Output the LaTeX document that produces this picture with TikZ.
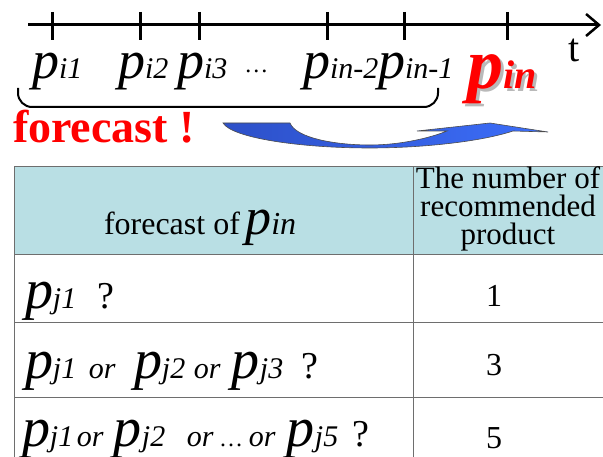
\documentclass[tikz,border=0pt]{standalone}
\usepackage{fontspec}
\setmainfont{Liberation Serif}
\usetikzlibrary{arrows.meta}
\definecolor{headfill}{RGB}{185,223,228}
\definecolor{gridline}{RGB}{110,110,110}
\definecolor{arrowdark}{RGB}{45,80,200}
\definecolor{arrowlight}{RGB}{60,110,250}
% p con subindice: tamano p, tamano subindice, subindice
\newcommand\pv[3]{{\fontsize{#1}{#1}\selectfont\itshape p}{\fontsize{#2}{#2}\selectfont\itshape #3}}
\newcommand\pinx{{\fontsize{72}{72}\selectfont\bfseries\itshape p}{\fontsize{40}{40}\selectfont\bfseries\itshape in}}
\newcommand\orw{{\fontsize{30}{30}\selectfont\itshape or}}
\newcommand\qm{{\fontsize{38}{38}\selectfont ?}}
\newcommand\seg[2]{\makebox[#1pt][l]{#2}}

\begin{document}
\begin{tikzpicture}[x=1pt,y=-1pt,line width=1pt,
  lbl/.style={anchor=base west,inner sep=0pt,outer sep=0pt},
  num/.style={anchor=base,inner sep=0pt,font=\fontsize{32}{32}\selectfont},
  grid/.style={draw=gridline,line width=1pt},
  tick/.style={line width=3pt},
  axis/.style={line width=3pt,-{Straight Barb[length=13pt,width=22pt,line width=2.5pt]}}]
  \useasboundingbox (0,0) rectangle (603,457);
  % eje de tiempo
  \coordinate (t0) at (28,25);
  \coordinate (t1) at (601,25);
  \draw[axis] (t0) -- (t1);
  \foreach \x in {52,140,199,327,404,507} \draw[tick] (\x,12) -- (\x,40);
  \node[lbl] (tt) at (568,62) {\fontsize{40}{40}\selectfont t};
  % etiquetas
  \node[lbl] (pa) at (32,79) {\pv{54}{30}{i1}};
  \node[lbl] (pb) at (118,79) {\pv{54}{30}{i2}};
  \node[lbl] (pc) at (177,79) {\pv{54}{30}{i3}};
  \node[lbl] (dots) at (246,73) {\fontsize{24}{24}\selectfont\itshape\dots};
  \node[lbl] (pd) at (303,79) {\pv{54}{30}{in-2}};
  \node[lbl] (pe) at (378,79) {\pv{54}{30}{in-1}};
  \node[lbl,text=gray!55] (pns) at (470,92) {\pinx};
  \node[lbl,text=red] (pn) at (467,89) {\pinx};
  % llave
  \draw[line width=2pt,rounded corners=14pt] (18,88) -- (18,107) -- (438,107) -- (438,88);
  \node[lbl,text=red] (fc) at (13,143) {\fontsize{46}{46}\selectfont\bfseries forecast !};
  % flecha azul
  \path[draw=black!70,line width=0.6pt,left color=arrowdark,right color=arrowlight]
    (223,123) -- (290,123) .. controls (296,138) and (335,145) .. (370,145)
    .. controls (400,145) and (430,138) .. (447,131) -- (417,131) -- (490,123)
    -- (548,132) -- (513,131) .. controls (480,142) and (420,148) .. (370,148)
    .. controls (300,148) and (232,138) .. (223,123) -- cycle;
  % tabla
  \fill[headfill] (14,167) rectangle (603,255);
  \draw[grid] (603,167) -- (14,167) -- (14,457);
  \foreach \y in {255,323,397} \draw[grid] (14,\y) -- (603,\y);
  \draw[grid] (413,167) -- (413,457);
  % cabecera
  \node[lbl] (hd1) at (104,235) {\fontsize{32}{32}\selectfont forecast of\,\pv{52}{32}{in}};
  \node[inner sep=0pt] (hd2) at (508,209) {\fontsize{31}{21}\selectfont
    \begin{tabular}{@{}c@{}}The number of\\recommended\\product\end{tabular}};
  % filas
  \node[lbl] (r1) at (25,309) {\seg{73}{\pv{56}{30}{j1}}\qm};
  \node[lbl] (r2) at (25,378) {\seg{64}{\pv{56}{30}{j1}}\seg{45}{\orw}\seg{60}{\pv{56}{30}{j2}}\seg{38}{\orw}\seg{70}{\pv{56}{30}{j3}}\qm};
  \node[lbl] (r3) at (22,446) {\seg{55}{\pv{56}{30}{j1}}\seg{37}{\orw}\seg{73}{\pv{56}{30}{j2}}\seg{34}{\orw}\seg{28}{\fontsize{24}{24}\selectfont\itshape\dots}\seg{38}{\orw}\seg{66}{\pv{56}{30}{j5}}\qm};
  \node[num] (n1) at (494,307) {1};
  \node[num] (n3) at (494,375) {3};
  \node[num] (n5) at (494,448) {5};
\end{tikzpicture}
\end{document}
